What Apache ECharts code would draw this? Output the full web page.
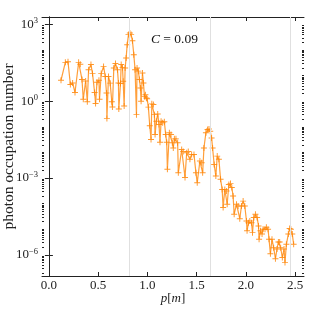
<!DOCTYPE html>
<html><head><meta charset="utf-8">
<script src="https://cdn.jsdelivr.net/npm/echarts@6/dist/echarts.min.js"></script>
<style>html,body{margin:0;padding:0;background:#fff}#c{width:322px;height:314px}</style>
</head><body><div id="c"></div>
<script>
const momenta = [0.123,0.167,0.194,0.218,0.241,0.265,0.302,0.319,0.336,0.349,0.373,0.390,0.403,0.427,0.443,0.464,0.474,0.488,0.508,0.514,0.531,0.555,0.572,0.585,0.589,0.605,0.622,0.639,0.645,0.659,0.676,0.696,0.706,0.710,0.727,0.734,0.747,0.754,0.764,0.774,0.784,0.795,0.808,0.822,0.835,0.848,0.862,0.875,0.889,0.895,0.909,0.919,0.929,0.936,0.950,0.960,0.970,0.980,0.990,0.997,1.010,1.024,1.037,1.045,1.061,1.071,1.078,1.091,1.105,1.118,1.128,1.139,1.155,1.172,1.186,1.196,1.203,1.223,1.240,1.253,1.263,1.274,1.290,1.307,1.314,1.348,1.364,1.382,1.399,1.415,1.432,1.449,1.473,1.493,1.506,1.533,1.551,1.561,1.574,1.594,1.611,1.625,1.638,1.652,1.662,1.678,1.695,1.709,1.726,1.743,1.759,1.769,1.786,1.804,1.810,1.827,1.844,1.857,1.870,1.881,1.905,1.921,1.938,1.955,1.972,1.989,2.006,2.012,2.026,2.040,2.057,2.067,2.080,2.097,2.114,2.128,2.134,2.148,2.164,2.174,2.194,2.208,2.225,2.235,2.249,2.265,2.282,2.300,2.316,2.330,2.343,2.353,2.370,2.387,2.397,2.411,2.431,2.444,2.457,2.471,2.485];
const occupation = [6.6,33,35,4.5,5.2,2.2,33,28,7.1,1.2,6.2,0.95,17,27,12,2.2,0.81,5.5,6.6,1.2,12,23,9.3,2.1,0.21,9.3,5.1,0.95,0.6,20,30,17,5.2,0.5,4.9,27,21,6.0,0.65,20,49,160,400,460,400,230,66,17,0.3,20,15,7.1,3.3,1.0,12.6,5.2,1.55,1.8,1.35,1.26,0.59,0.11,0.032,0.79,0.74,0.30,0.05,0.166,0.32,0.123,0.025,0.166,0.145,0.158,0.05,0.025,0.0022,0.059,0.05,0.024,0.015,0.034,0.034,0.024,0.0016,0.013,0.011,0.00105,0.0098,0.011,0.0054,0.0083,0.0083,0.0016,0.00066,0.0046,0.004,0.0016,0.015,0.059,0.079,0.083,0.068,0.037,0.015,0.0034,0.0012,0.0072,0.0054,0.0009,3.6e-4,7.1e-5,3.6e-4,3.1e-4,9.5e-5,5.6e-4,6.2e-4,4.3e-4,2.0e-4,3.9e-5,9.5e-5,8.1e-5,2.6e-5,8.1e-5,1.26e-4,8.1e-5,2.1e-5,8.7e-6,1.8e-5,2.1e-5,1.8e-5,7.4e-6,2.9e-5,3.9e-5,2.9e-5,1.35e-5,4.1e-6,8.7e-6,6.5e-6,1.0e-5,1.0e-5,1.2e-5,1.0e-5,4.1e-6,1.1e-6,4.1e-6,1.9e-6,7.1e-7,1.7e-6,3.2e-6,3.2e-6,1.9e-6,7.9e-7,1.7e-6,5.0e-7,2.6e-6,6.5e-6,1.07e-5,1.0e-5,6.5e-6,2.6e-6];
const harmonicLines = [0.818, 1.636, 2.454];
const xTickValues = [0, 0.5, 1, 1.5, 2, 2.5];
const yTickValues = [1e-6, 1e-3, 1, 1e3];
const annotation = '= 0.09';

const FONT = 'Liberation Serif';
const X_MIN = -0.07, X_MAX = 2.59;
const Y_MIN = 1.5e-7, Y_MAX = 1950;

// log minor tick positions (k * 10^n), skipping the labelled decades
const yMinorTicks = [];
for (let n = -7; n <= 3; n++) {
  for (let k = 1; k <= 9; k++) {
    const v = Number((k * Math.pow(10, n)).toPrecision(3));
    if (v < Y_MIN || v > Y_MAX) continue;
    if (k === 1 && n % 3 === 0) continue;
    yMinorTicks.push(v);
  }
}

const chart = echarts.init(document.getElementById('c'), null, {renderer: 'canvas'});
function yLabel(v) {
  const e = Math.round(Math.log10(v));
  return '{b|10}{s|' + String(e).replace('-', '−') + '}';
}
const INK = '#222';
const axisLine = {show: true, lineStyle: {color: INK, width: 1}};
const plus = 'path://M-1,-0.16H1V0.16H-1Z M-0.16,-1H0.16V1H-0.16Z';

function yAxisDef(pos, ticks, len, withLine, withLabels) {
  const a = {
    type: 'log', logBase: 10, min: Y_MIN, max: Y_MAX, position: pos,
    axisLine: withLine ? axisLine : {show: false},
    axisTick: {inside: true, length: len, customValues: ticks, lineStyle: {color: INK, width: 1}},
    minorTick: {show: false},
    axisLabel: {show: false}, splitLine: {show: false}
  };
  if (withLabels) {
    a.axisLabel = {show: true, customValues: yTickValues, margin: 4, formatter: yLabel,
      rich: {b: {fontFamily: FONT, fontSize: 13, color: INK},
             s: {fontFamily: FONT, fontSize: 8.5, color: INK, verticalAlign: 'bottom', padding: [0,0,7,0]}}};
    a.name = 'photon occupation number';
    a.nameLocation = 'middle';
    a.nameGap = 25;
    a.nameMoveOverlap = false;
    a.nameTextStyle = {color: INK, fontFamily: FONT, fontSize: 15.5};
  }
  return a;
}

chart.setOption({
  animation: false,
  grid: {left: 42, right: 18, top: 17, bottom: 38, outerBoundsMode: 'none', containLabel: false},
  xAxis: [{
    type: 'value', min: X_MIN, max: X_MAX,
    axisLine: axisLine,
    axisTick: {inside: true, length: 4, customValues: xTickValues, lineStyle: {color: INK}},
    axisLabel: {customValues: xTickValues, margin: 3, color: INK, fontFamily: FONT, fontSize: 13,
      formatter: v => v.toFixed(1)},
    splitLine: {show: false},
    name: '{i|p}[{i|m}]', nameLocation: 'middle', nameGap: 16, nameMoveOverlap: false,
    nameTextStyle: {color: INK, fontFamily: FONT, fontSize: 13,
      rich: {i: {fontStyle: 'italic', fontFamily: FONT, fontSize: 13, color: INK}}}
  }, {
    type: 'value', min: X_MIN, max: X_MAX, position: 'top',
    axisLine: axisLine,
    axisTick: {inside: true, length: 4, customValues: xTickValues, lineStyle: {color: INK}},
    axisLabel: {show: false}, splitLine: {show: false}
  }],
  yAxis: [
    yAxisDef('left', yTickValues, 4, true, true),
    yAxisDef('right', yTickValues, 4, true, false),
    yAxisDef('left', yMinorTicks, 2, false, false),
    yAxisDef('right', yMinorTicks, 2, false, false)
  ],
  graphic: [{
    type: 'text', left: 151, top: 32,
    style: {text: '{c|C} {t|' + annotation + '}',
      rich: {c: {fontFamily: FONT, fontStyle: 'italic', fontSize: 13.5, fill: '#111'},
             t: {fontFamily: FONT, fontSize: 13.5, fill: '#111'}}}
  }],
  series: [{
    type: 'line',
    data: momenta.map((p, i) => [p, occupation[i]]),
    symbol: plus, symbolSize: 6, showSymbol: true,
    lineStyle: {color: 'rgba(255,135,10,0.8)', width: 1.2},
    itemStyle: {color: 'rgba(255,135,10,0.85)'},
    z: 3,
    markLine: {
      silent: true, symbol: 'none', label: {show: false},
      lineStyle: {color: '#e0e0e0', width: 1, type: 'solid'},
      data: harmonicLines.map(v => ({xAxis: v}))
    }
  }]
});
</script>
</body></html>
